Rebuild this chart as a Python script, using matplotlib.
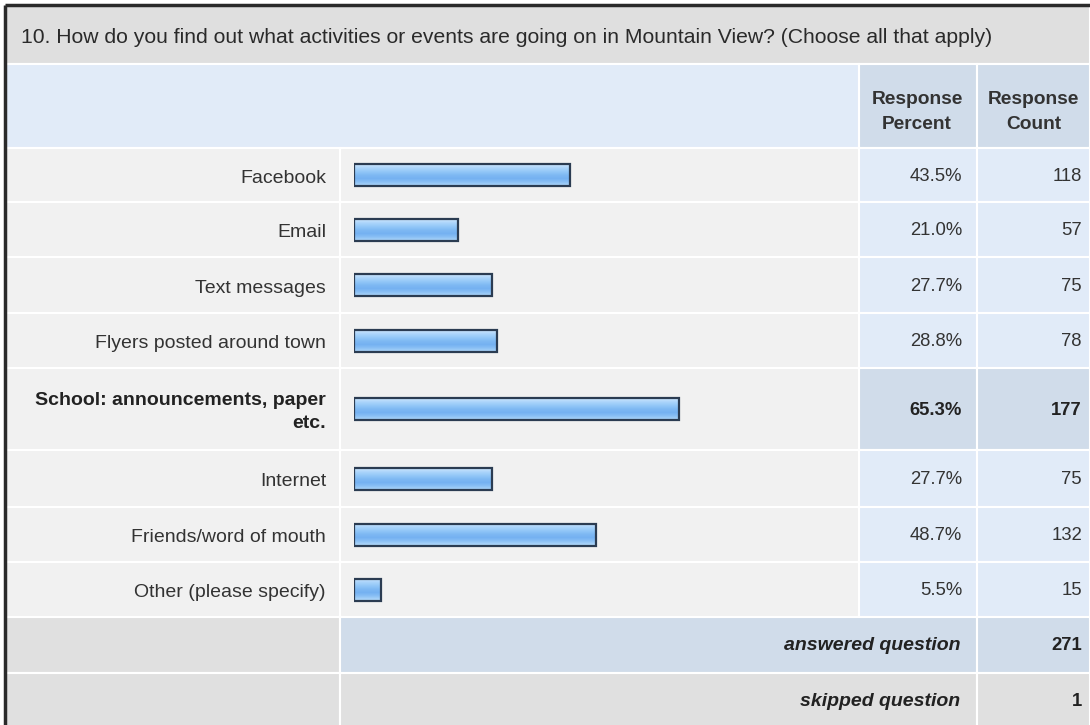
import numpy as np
import matplotlib.pyplot as plt
from matplotlib.patches import Rectangle
from matplotlib.colors import LinearSegmentedColormap

plt.rcParams['font.family'] = ['Liberation Sans', 'DejaVu Sans']

# data
title = "10. How do you find out what activities or events are going on in Mountain View? (Choose all that apply)"
labels = ["Facebook", "Email", "Text messages", "Flyers posted around town",
          "School: announcements, paper\netc.", "Internet", "Friends/word of mouth",
          "Other (please specify)"]
percents = [43.5, 21.0, 27.7, 28.8, 65.3, 27.7, 48.7, 5.5]
counts = [118, 57, 75, 78, 177, 75, 132, 15]
answered = 271
skipped = 1

# layout (pixels)
W, H = 1090, 725
row_edges = [148, 202, 257, 313, 368, 450, 507, 562, 617]
x_lab, x_bar, x_pct, x_cnt, x_end = 6, 340, 859, 977, 1090
top, title_bot = 6, 64

c_title = '#dfdfdf'
c_head = '#e1ebf8'
c_dark = '#d0dcea'
c_row = '#f1f1f1'
c_gray = '#e0e0e0'
txt = '#333333'
fs_lab = 14
fs_val = 13.3

fig = plt.figure(figsize=(10.9, 7.25), dpi=100)
ax = fig.add_axes([0, 0, 1, 1])
ax.set_xlim(0, W)
ax.set_ylim(H, 0)
ax.axis('off')

def cell(x0, x1, y0, y1, color):
    ax.add_patch(Rectangle((x0, y0), x1 - x0, y1 - y0, facecolor=color,
                           edgecolor='white', linewidth=1.5))

# title + header
cell(x_lab, x_end, top, title_bot, c_title)
ax.text(21, 37, title, fontsize=15.2, color='#2a2a2a', va='center', ha='left')
cell(x_lab, x_pct, title_bot, row_edges[0], c_head)
cell(x_pct, x_cnt, title_bot, row_edges[0], c_dark)
cell(x_cnt, x_end, title_bot, row_edges[0], c_dark)
for xc, s in [((x_pct + x_cnt) / 2 - 1, "Response\nPercent"), ((x_cnt + x_end) / 2, "Response\nCount")]:
    ax.text(xc, 112, s, fontsize=13.8, fontweight='bold', color=txt,
            ha='center', va='center', linespacing=1.55)

imax = int(np.argmax(percents))
centers = []
for i, (lab, p, c) in enumerate(zip(labels, percents, counts)):
    y0, y1 = row_edges[i], row_edges[i + 1]
    yc = (y0 + y1) / 2
    centers.append(yc)
    hi = i == imax
    cell(x_lab, x_bar, y0, y1, c_row)
    cell(x_bar, x_pct, y0, y1, c_row)
    cell(x_pct, x_cnt, y0, y1, c_dark if hi else c_head)
    cell(x_cnt, x_end, y0, y1, c_dark if hi else c_head)
    w = 'bold' if hi else 'normal'
    col = '#222222' if hi else txt
    ax.text(326, yc + 3, lab, fontsize=fs_lab, fontweight=w, color=col,
            ha='right', va='center', linespacing=1.5)
    ax.text(962, yc + 1, f"{p:.1f}%", fontsize=fs_val, fontweight=w, color=col, ha='right', va='center')
    ax.text(1082, yc + 1, str(c), fontsize=fs_val, fontweight=w, color=col, ha='right', va='center')

# summary rows
ya0, ya1, ys1 = row_edges[-1], 673, 730
cell(x_lab, x_bar, ya0, ya1, c_gray)
cell(x_bar, x_cnt, ya0, ya1, c_dark)
cell(x_cnt, x_end, ya0, ya1, c_dark)
cell(x_lab, x_bar, ya1, ys1, c_gray)
cell(x_bar, x_cnt, ya1, ys1, c_gray)
cell(x_cnt, x_end, ya1, ys1, c_gray)
ax.text(960, (ya0 + ya1) / 2, "answered question", fontsize=fs_lab, style='italic',
        fontweight='bold', color='#222222', ha='right', va='center')
ax.text(960, (ya1 + ys1) / 2, "skipped question", fontsize=fs_lab, style='italic',
        fontweight='bold', color='#222222', ha='right', va='center')
ax.text(1082, (ya0 + ya1) / 2, str(answered), fontsize=fs_val, fontweight='bold',
        color='#222222', ha='right', va='center')
ax.text(1082, (ya1 + ys1) / 2, str(skipped), fontsize=fs_val, fontweight='bold',
        color='#222222', ha='right', va='center')

# outer border
ax.plot([5, 5], [H, 5], color='#2a2a2a', lw=2.5, solid_capstyle='butt')
ax.plot([5, W], [5, 5], color='#2a2a2a', lw=2.5, solid_capstyle='butt')

# bars
bax = fig.add_axes([354 / W, 0, 497 / W, 1])
bax.set_xlim(0, 100)
bax.set_ylim(H, 0)
bax.axis('off')
bax.patch.set_alpha(0)
bars = bax.barh(centers, percents, height=22, facecolor='#8cc4f7',
                edgecolor='#2b3c52', linewidth=1.6, zorder=3)
grad_cmap = LinearSegmentedColormap.from_list(
    'g', ['#cde6fd', '#acd5fb', '#94c8f8', '#7fb9f3', '#74b1f1', '#8cc1f5', '#b0d7fa'])
grad = np.linspace(0, 1, 50).reshape(-1, 1)
for b, yc, p in zip(bars, centers, percents):
    im = bax.imshow(grad, cmap=grad_cmap, aspect='auto', zorder=2,
                    extent=(0, p, yc + 11, yc - 11), origin='upper')
    im.set_clip_path(b)
    b.set_facecolor('none')

fig.savefig('out.png', dpi=100)
